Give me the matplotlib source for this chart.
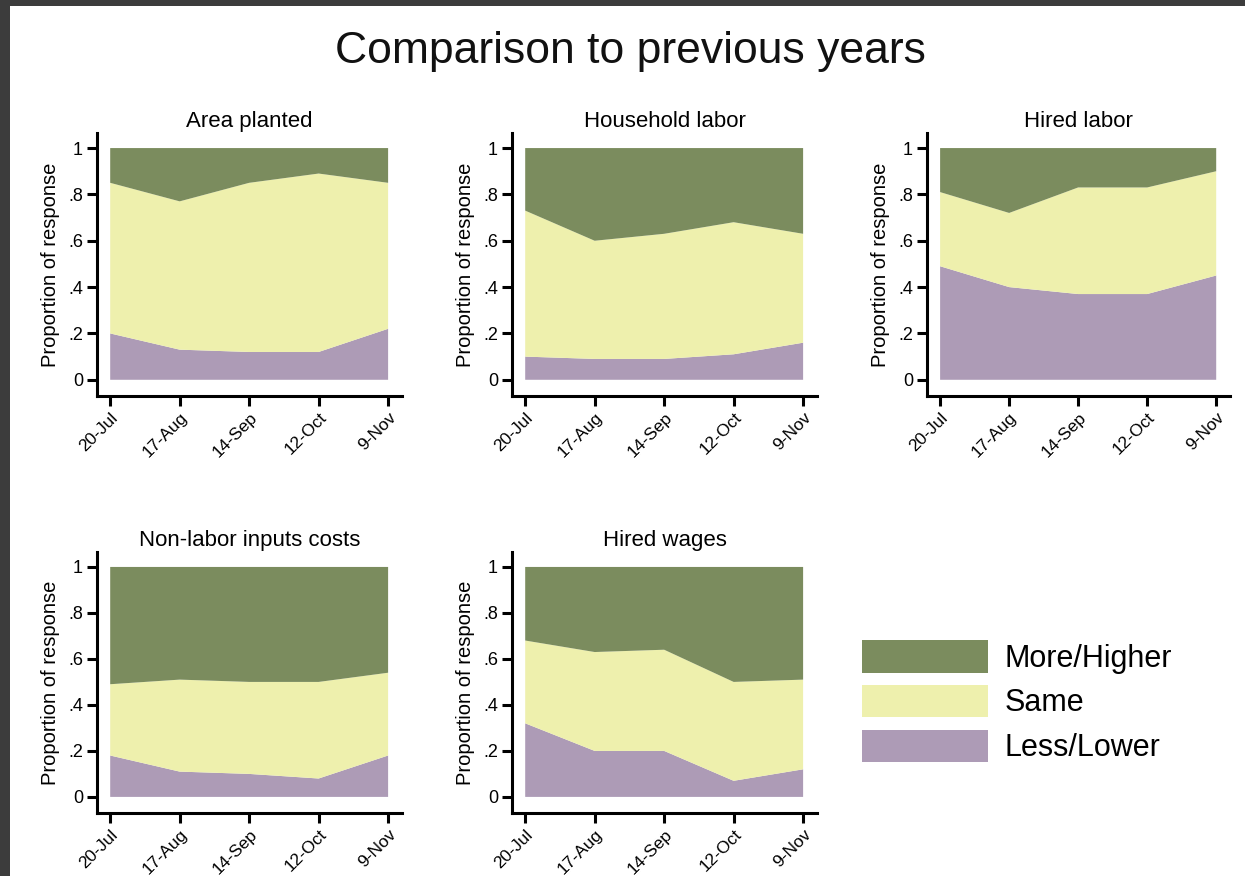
import matplotlib
matplotlib.use("Agg")
import matplotlib.pyplot as plt
from matplotlib.patches import Patch, Rectangle

plt.rcParams.update({"font.family": ["Liberation Sans", "DejaVu Sans"]})

dates = ["20-Jul", "17-Aug", "14-Sep", "12-Oct", "9-Nov"]
categories = ["More/Higher", "Same", "Less/Lower"]
GREEN, YELLOW, PURPLE = "#7b8c5e", "#eef0ad", "#ad9bb6"

panel_titles = ["Area planted", "Household labor", "Hired labor",
                "Non-labor inputs costs", "Hired wages"]
# share answering "less/lower" and "less or same" (cumulative) per survey round
less_area = [0.20, 0.13, 0.12, 0.12, 0.22]
lesssame_area = [0.85, 0.77, 0.85, 0.89, 0.85]
less_hh = [0.10, 0.09, 0.09, 0.11, 0.16]
lesssame_hh = [0.73, 0.60, 0.63, 0.68, 0.63]
less_hired = [0.49, 0.40, 0.37, 0.37, 0.45]
lesssame_hired = [0.81, 0.72, 0.83, 0.83, 0.90]
less_inputs = [0.18, 0.11, 0.10, 0.08, 0.18]
lesssame_inputs = [0.49, 0.51, 0.50, 0.50, 0.54]
less_wages = [0.32, 0.20, 0.20, 0.07, 0.12]
lesssame_wages = [0.68, 0.63, 0.64, 0.50, 0.51]

less = [less_area, less_hh, less_hired, less_inputs, less_wages]
lesssame = [lesssame_area, lesssame_hh, lesssame_hired, lesssame_inputs, lesssame_wages]

W, H = 1245, 876
fig = plt.figure(figsize=(W / 100, H / 100), dpi=100)
fig.patch.set_facecolor("#3c3c3c")
fig.patches.append(Rectangle((10 / W, 0), 1, (H - 6) / H, transform=fig.transFigure,
                             facecolor="white", edgecolor="none", zorder=-10))

fig.text(630 / W, 1 - 52 / H, "Comparison to previous years", ha="center", va="center",
         fontsize=32, color="#111111")

# pixel boxes: left, right, top, bottom
boxes = [(97, 402, 133, 396), (512, 817, 133, 396), (927, 1230, 133, 396),
         (97, 402, 552, 813), (512, 817, 552, 813)]

x = list(range(len(dates)))
for i, (l, r, t, b) in enumerate(boxes):
    ax = fig.add_axes([l / W, 1 - b / H, (r - l) / W, (b - t) / H])
    lo = less[i]
    mid = [s - v for s, v in zip(lesssame[i], lo)]
    top = [1 - s for s in lesssame[i]]
    ax.stackplot(x, lo, mid, top, colors=[PURPLE, YELLOW, GREEN], linewidth=0)
    ax.set_xlim(-0.19, 4.2)
    ax.set_ylim(-0.07, 1.065)
    ax.set_yticks([0, 0.2, 0.4, 0.6, 0.8, 1])
    ax.set_yticklabels(["0", ".2", ".4", ".6", ".8", "1"])
    ax.set_xticks(x)
    ax.set_xticklabels(dates, rotation=45, ha="right", rotation_mode="anchor")
    for s in ["top", "right"]:
        ax.spines[s].set_visible(False)
    for s in ["left", "bottom"]:
        ax.spines[s].set_linewidth(2.2)
    ax.tick_params(width=2.2, length=7, labelsize=13, pad=3)
    ax.tick_params(axis="x", labelsize=12.5)
    ax.set_ylabel("Proportion of response", fontsize=14.5, labelpad=6)
    ax.set_title(panel_titles[i], fontsize=16, pad=4)
    ax.patch.set_alpha(0)

handles = [Patch(facecolor=c, edgecolor="none") for c in [GREEN, YELLOW, PURPLE]]
fig.legend(handles, categories, loc="upper left", bbox_to_anchor=(850 / W, 1 - 628 / H),
           frameon=False, fontsize=22, handlelength=4.1, handleheight=1.25,
           labelspacing=0.37, handletextpad=0.55, borderaxespad=0)

fig.savefig("out.png", dpi=100, facecolor=fig.get_facecolor())
